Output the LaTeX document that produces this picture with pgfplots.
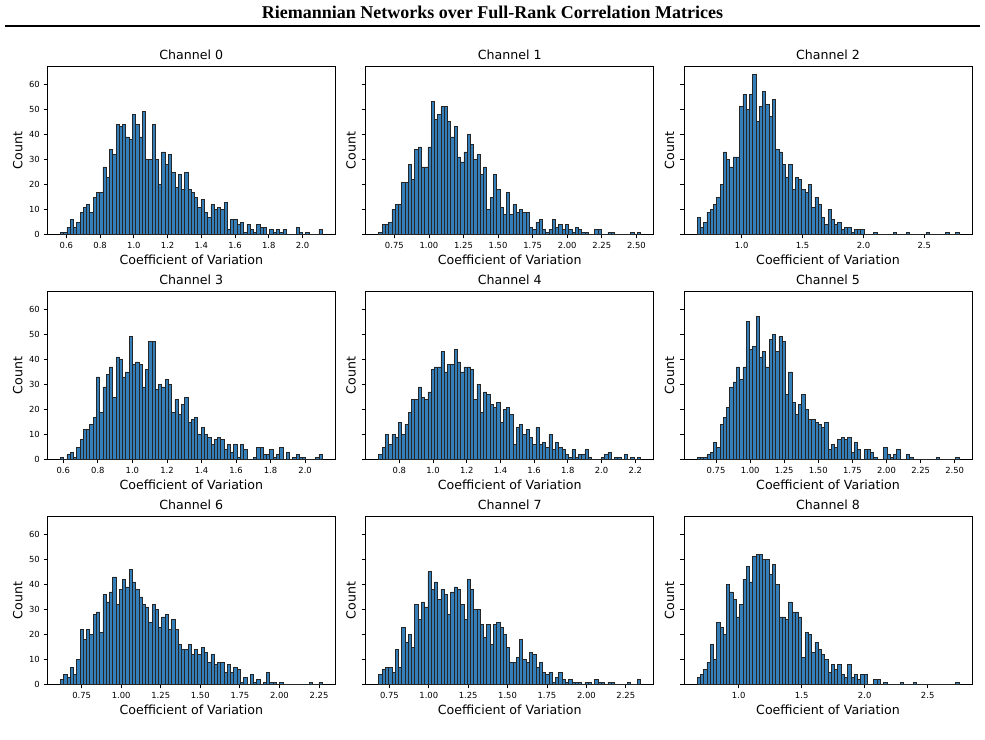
\documentclass[border=0pt]{standalone}
\usepackage{fontspec}
\setmainfont{DejaVu Sans}
\newfontfamily\headfont{Liberation Serif}
\usepackage{pgfplots}
\usepackage{pgfplotstable}
\pgfplotsset{compat=1.18}

\definecolor{barblue}{RGB}{52,126,186}

% Histogram counts per channel (80 equal-width bins each)
\pgfplotstableread[header=false,row sep=\\]{1\\1\\3\\6\\3\\5\\9\\11\\12\\9\\15\\17\\17\\27\\23\\34\\32\\44\\43\\44\\39\\38\\48\\44\\39\\49\\30\\30\\44\\30\\20\\33\\28\\32\\25\\19\\24\\18\\25\\18\\17\\15\\11\\14\\9\\7\\12\\10\\11\\10\\13\\2\\6\\6\\4\\5\\1\\4\\2\\1\\4\\3\\3\\0\\2\\1\\2\\1\\2\\0\\0\\0\\3\\1\\0\\1\\0\\0\\0\\2\\}\chA
\pgfplotstableread[header=false,row sep=\\]{1\\4\\4\\5\\10\\12\\12\\21\\21\\28\\22\\34\\35\\27\\27\\35\\53\\46\\48\\51\\51\\45\\39\\43\\31\\29\\33\\40\\36\\30\\32\\24\\27\\10\\15\\24\\18\\11\\8\\17\\8\\12\\9\\10\\9\\9\\3\\2\\5\\6\\2\\1\\2\\6\\3\\4\\2\\4\\2\\1\\3\\2\\1\\1\\0\\0\\2\\2\\0\\0\\1\\1\\0\\0\\0\\0\\0\\1\\0\\1\\}\chB
\pgfplotstableread[header=false,row sep=\\]{7\\3\\5\\9\\10\\12\\15\\20\\33\\30\\27\\31\\31\\51\\56\\50\\56\\64\\45\\51\\57\\52\\47\\54\\34\\33\\28\\23\\28\\18\\23\\22\\18\\17\\20\\11\\15\\12\\7\\4\\10\\6\\4\\5\\2\\3\\3\\1\\2\\2\\2\\0\\0\\0\\1\\0\\0\\0\\0\\0\\1\\0\\0\\0\\1\\0\\0\\0\\0\\0\\1\\0\\0\\0\\0\\0\\1\\0\\0\\1\\}\chC
\pgfplotstableread[header=false,row sep=\\]{1\\0\\2\\3\\1\\5\\8\\12\\12\\14\\17\\33\\19\\29\\34\\37\\25\\41\\40\\33\\35\\49\\38\\39\\38\\29\\36\\47\\47\\28\\30\\29\\32\\30\\19\\24\\18\\22\\25\\15\\16\\17\\10\\13\\10\\9\\6\\8\\9\\8\\4\\6\\3\\6\\1\\6\\4\\0\\0\\1\\5\\5\\2\\2\\4\\1\\2\\5\\0\\3\\0\\1\\2\\1\\1\\0\\0\\0\\1\\2\\}\chD
\pgfplotstableread[header=false,row sep=\\]{2\\5\\10\\6\\10\\9\\15\\10\\14\\19\\24\\24\\29\\25\\24\\27\\36\\37\\37\\43\\35\\38\\38\\44\\39\\35\\37\\37\\36\\24\\30\\19\\27\\26\\22\\21\\23\\15\\20\\21\\18\\6\\13\\14\\10\\12\\9\\6\\13\\6\\7\\5\\10\\4\\7\\5\\4\\2\\1\\4\\1\\2\\2\\4\\1\\0\\0\\0\\1\\2\\3\\0\\1\\1\\0\\2\\0\\1\\0\\1\\}\chE
\pgfplotstableread[header=false,row sep=\\]{1\\1\\1\\2\\3\\7\\5\\14\\17\\21\\29\\31\\37\\32\\37\\55\\44\\45\\57\\41\\43\\37\\48\\50\\43\\49\\47\\26\\35\\23\\18\\22\\26\\20\\16\\16\\15\\14\\13\\15\\4\\6\\5\\8\\9\\8\\9\\3\\7\\4\\0\\4\\4\\3\\1\\0\\0\\5\\2\\1\\2\\4\\0\\0\\2\\1\\0\\0\\0\\0\\0\\0\\0\\1\\0\\0\\0\\0\\0\\1\\}\chF
\pgfplotstableread[header=false,row sep=\\]{2\\4\\3\\7\\4\\10\\22\\18\\22\\20\\28\\29\\21\\36\\33\\37\\43\\32\\38\\42\\39\\46\\41\\38\\35\\32\\31\\25\\32\\30\\23\\27\\28\\22\\26\\22\\16\\14\\14\\16\\12\\14\\12\\15\\13\\9\\12\\8\\9\\9\\5\\8\\5\\7\\6\\1\\3\\0\\4\\1\\2\\0\\1\\5\\1\\1\\0\\1\\0\\0\\0\\0\\0\\0\\0\\0\\1\\0\\0\\1\\}\chG
\pgfplotstableread[header=false,row sep=\\]{4\\6\\7\\7\\5\\14\\7\\23\\17\\20\\15\\32\\26\\33\\31\\45\\38\\41\\34\\38\\36\\28\\37\\39\\38\\32\\26\\42\\38\\30\\30\\24\\19\\24\\16\\24\\25\\23\\20\\15\\9\\9\\11\\18\\10\\9\\13\\12\\7\\9\\5\\4\\5\\1\\3\\5\\2\\1\\2\\1\\1\\1\\0\\1\\1\\0\\2\\1\\1\\0\\1\\1\\0\\0\\0\\0\\1\\0\\0\\2\\}\chH
\pgfplotstableread[header=false,row sep=\\]{3\\4\\6\\9\\16\\10\\25\\23\\20\\40\\37\\34\\27\\32\\42\\47\\41\\51\\52\\52\\50\\50\\44\\48\\40\\27\\27\\26\\33\\29\\29\\27\\11\\21\\20\\13\\17\\14\\12\\10\\5\\8\\6\\8\\4\\3\\8\\3\\4\\2\\4\\4\\0\\0\\2\\2\\0\\1\\0\\0\\0\\0\\1\\0\\0\\0\\1\\0\\0\\0\\0\\0\\0\\0\\0\\0\\0\\0\\0\\1\\}\chI

\pgfplotsset{
  panel/.style={
    scale only axis, width=288pt, height=168.5pt, anchor=south west,
    ymin=0, ymax=67.2, ytick={0,10,20,30,40,50,60},
    axis line style={line width=0.84pt, black},
    tick style={line width=0.84pt, black},
    tick align=outside, major tick length=3.7pt, tick pos=left,
    ticklabel style={font=\fontsize{8.4}{10}\selectfont},
    xticklabel style={inner sep=0pt, anchor=north},
    yticklabel style={inner sep=0pt, anchor=east},
    xticklabel shift=3.65pt, yticklabel shift=3.65pt,
    title style={font=\fontsize{12.6}{15}\selectfont, at={(axis description cs:0.5,1)}, anchor=base, yshift=0.5pt},
    xlabel={Coefficient of Variation},
    xlabel style={font=\fontsize{12.6}{15}\selectfont, at={([yshift=-29.5pt]axis description cs:0.5,0)}, anchor=base},
    ylabel={Count},
  },
  firstcol/.style={
    yticklabels={0,10,20,30,40,50,60},
    ylabel style={font=\fontsize{12.6}{15}\selectfont, at={([xshift=-25pt]axis description cs:0,0.5)}, anchor=base},
  },
  othercol/.style={
    yticklabels={},
    ylabel style={font=\fontsize{12.6}{15}\selectfont, at={([xshift=-10pt]axis description cs:0,0.5)}, anchor=base},
  },
  hist/.style={ybar, bar shift=0, fill=barblue, draw=black!85, line width=0.75pt},
}

\begin{document}
\begin{tikzpicture}
\useasboundingbox (0,0) rectangle (985pt,739pt);

% running head
\node[anchor=base, font=\headfont\bfseries\fontsize{18}{20}\selectfont] at (492.5pt,720pt)
  {Riemannian Networks over Full-Rank Correlation Matrices};
\draw[line width=2.2pt] (5pt,713pt) -- (980pt,713pt);

% ---- row 1 ----
\begin{axis}[panel, firstcol, at={(47.3pt,504.3pt)}, title={Channel 0},
  xmin=0.4868, xmax=2.1943,
  xtick={0.6,0.8,1.0,1.2,1.4,1.6,1.8,2.0}, xticklabels={0.6,0.8,1.0,1.2,1.4,1.6,1.8,2.0}]
\addplot[hist, bar width=0.019404] table[x expr={0.5644+(\coordindex+0.5)*0.019404}, y index=0] {\chA};
\end{axis}
\begin{axis}[panel, othercol, at={(365.7pt,504.3pt)}, title={Channel 1},
  xmin=0.5429, xmax=2.6251,
  xtick={0.75,1.0,1.25,1.5,1.75,2.0,2.25,2.5}, xticklabels={0.75,1.00,1.25,1.50,1.75,2.00,2.25,2.50}]
\addplot[hist, bar width=0.023663] table[x expr={0.6375+(\coordindex+0.5)*0.023663}, y index=0] {\chB};
\end{axis}
\begin{axis}[panel, othercol, at={(684pt,504.3pt)}, title={Channel 2},
  xmin=0.5265, xmax=2.8915,
  xtick={1.0,1.5,2.0,2.5}, xticklabels={1.0,1.5,2.0,2.5}]
\addplot[hist, bar width=0.026875] table[x expr={0.634+(\coordindex+0.5)*0.026875}, y index=0] {\chC};
\end{axis}

% ---- row 2 ----
\begin{axis}[panel, firstcol, at={(47.3pt,279.3pt)}, title={Channel 3},
  xmin=0.5072, xmax=2.1748,
  xtick={0.6,0.8,1.0,1.2,1.4,1.6,1.8,2.0}, xticklabels={0.6,0.8,1.0,1.2,1.4,1.6,1.8,2.0}]
\addplot[hist, bar width=0.01895] table[x expr={0.583+(\coordindex+0.5)*0.01895}, y index=0] {\chD};
\end{axis}
\begin{axis}[panel, othercol, at={(365.7pt,279.3pt)}, title={Channel 4},
  xmin=0.6003, xmax=2.3097,
  xtick={0.8,1.0,1.2,1.4,1.6,1.8,2.0,2.2}, xticklabels={0.8,1.0,1.2,1.4,1.6,1.8,2.0,2.2}]
\addplot[hist, bar width=0.019425] table[x expr={0.678+(\coordindex+0.5)*0.019425}, y index=0] {\chE};
\end{axis}
\begin{axis}[panel, othercol, at={(684pt,279.3pt)}, title={Channel 5},
  xmin=0.515, xmax=2.627,
  xtick={0.75,1.0,1.25,1.5,1.75,2.0,2.25,2.5}, xticklabels={0.75,1.00,1.25,1.50,1.75,2.00,2.25,2.50}]
\addplot[hist, bar width=0.024] table[x expr={0.611+(\coordindex+0.5)*0.024}, y index=0] {\chF};
\end{axis}

% ---- row 3 ----
\begin{axis}[panel, firstcol, at={(47.3pt,54.3pt)}, title={Channel 6},
  xmin=0.5333, xmax=2.3527,
  xtick={0.75,1.0,1.25,1.5,1.75,2.0,2.25}, xticklabels={0.75,1.00,1.25,1.50,1.75,2.00,2.25}]
\addplot[hist, bar width=0.020675] table[x expr={0.616+(\coordindex+0.5)*0.020675}, y index=0] {\chG};
\end{axis}
\begin{axis}[panel, othercol, at={(365.7pt,54.3pt)}, title={Channel 7},
  xmin=0.5999, xmax=2.4271,
  xtick={0.75,1.0,1.25,1.5,1.75,2.0,2.25}, xticklabels={0.75,1.00,1.25,1.50,1.75,2.00,2.25}]
\addplot[hist, bar width=0.020763] table[x expr={0.683+(\coordindex+0.5)*0.020763}, y index=0] {\chH};
\end{axis}
\begin{axis}[panel, othercol, at={(684pt,54.3pt)}, title={Channel 8},
  xmin=0.5661, xmax=2.8519,
  xtick={1.0,1.5,2.0,2.5}, xticklabels={1.0,1.5,2.0,2.5}]
\addplot[hist, bar width=0.025975] table[x expr={0.670+(\coordindex+0.5)*0.025975}, y index=0] {\chI};
\end{axis}
\end{tikzpicture}
\end{document}
